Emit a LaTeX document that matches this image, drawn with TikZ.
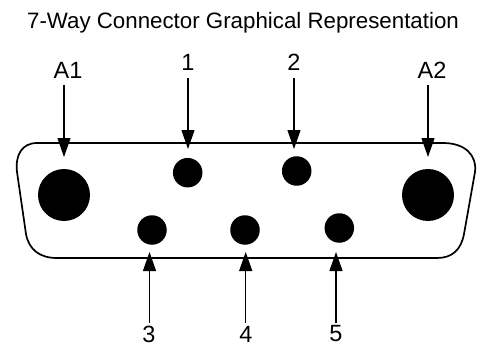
\documentclass[tikz,border=0pt]{standalone}
\usepackage{fontspec}
\setmainfont{Liberation Sans}
\usetikzlibrary{arrows.meta}
\tikzset{
 pin/.style={circle,fill=black,inner sep=0pt,minimum size=#1},
 lbl/.style={inner sep=0pt,font=\fontsize{23.5}{25}\selectfont},
 arr/.style={-{Triangle[length=19pt,width=13pt]},line width=1.2pt},
}
\begin{document}
\begin{tikzpicture}[x=1pt,y=-1pt,line join=round]
\useasboundingbox (0,0) rectangle (477,345);
\fill[white] (0,0) rectangle (477,345);
\node[inner sep=0pt,font=\fontsize{22.3}{24}\selectfont] (title) at (243,23) {7-Way Connector Graphical Representation};
\draw[line width=1.7pt] (37,143) -- (443,143) .. controls (465,143) and (477,155) .. (475,172)
 -- (464,234) .. controls (461,250) and (452,258) .. (437,258) -- (57,258) .. controls (40,258) and (29,250) .. (26,234)
 -- (17,172) .. controls (15,155) and (22,143) .. (37,143) -- cycle;
\node[pin=52pt] (pA1) at (64,195) {};
\node[pin=52pt] (pA2) at (428,195) {};
\node[pin=29.5pt] (p1) at (187.7,172.7) {};
\node[pin=29.5pt] (p2) at (296.7,171) {};
\node[pin=29.5pt] (p3) at (152,230) {};
\node[pin=29.5pt] (p4) at (245,230) {};
\node[pin=29.5pt] (p5) at (339.3,228) {};
\node[lbl] (lA1) at (68,70) {A1};
\node[lbl] (lA2) at (432,70) {A2};
\node[lbl] (l1) at (188,62) {1};
\node[lbl] (l2) at (294,62) {2};
\node[lbl] (l3) at (149,334) {3};
\node[lbl] (l4) at (246,334) {4};
\node[lbl] (l5) at (336,334) {5};
\coordinate (tA1) at (64,157);
\coordinate (sA1) at (64,85);
\coordinate (tA2) at (428,157);
\coordinate (sA2) at (428,85);
\coordinate (t1) at (188,149);
\coordinate (s1) at (188,78);
\coordinate (t2) at (294,149);
\coordinate (s2) at (294,78);
\coordinate (t3) at (149.5,252);
\coordinate (s3) at (149.5,323);
\coordinate (t4) at (245.7,252);
\coordinate (s4) at (245.7,323);
\coordinate (t5) at (336,252);
\coordinate (s5) at (336,323);
\draw[arr] (sA1) -- (tA1);
\draw[arr] (sA2) -- (tA2);
\draw[arr] (s1) -- (t1);
\draw[arr] (s2) -- (t2);
\draw[arr] (s3) -- (t3);
\draw[arr] (s4) -- (t4);
\draw[arr] (s5) -- (t5);
\end{tikzpicture}
\end{document}
